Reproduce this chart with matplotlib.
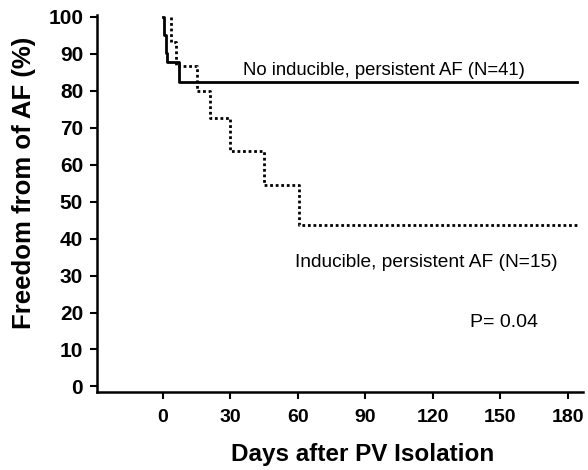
import matplotlib
matplotlib.use("Agg")
import matplotlib.pyplot as plt

plt.rcParams['font.family'] = ['Liberation Sans', 'DejaVu Sans']

# Kaplan-Meier steps (day, freedom %)
no_ind_days = [0, 0.6, 1.2, 2, 7, 184]
no_ind_pct = [100, 95.1, 90.2, 87.8, 82.4, 82.4]

ind_days = [3.4, 3.5, 6, 15, 21, 30, 45, 60.4, 184]
ind_pct = [100, 93.3, 86.7, 80.0, 72.7, 63.6, 54.5, 43.6, 43.6]

xticks = [0, 30, 60, 90, 120, 150, 180]
yticks = [0, 10, 20, 30, 40, 50, 60, 70, 80, 90, 100]

fig = plt.figure(figsize=(5.88, 4.70), dpi=100)
ax = fig.add_axes([0.165, 0.166, 0.826, 0.802])

ax.plot(no_ind_days, no_ind_pct, drawstyle='steps-post', color='black', lw=2)
ax.plot(ind_days, ind_pct, drawstyle='steps-post', color='black', lw=2,
        linestyle=(0, (1, 1)))

ax.set_xlim(-29.3, 186.7)
ax.set_ylim(-1.5, 100.5)
ax.set_xticks(xticks)
ax.set_yticks(yticks)
for s in ['top', 'right']:
    ax.spines[s].set_visible(False)
for s in ['left', 'bottom']:
    ax.spines[s].set_linewidth(1.8)
ax.tick_params(direction='out', length=5, width=1.5)
ax.tick_params(axis='x', labelsize=14, pad=7)
ax.tick_params(axis='y', labelsize=15, pad=5)
for lab in ax.get_xticklabels() + ax.get_yticklabels():
    lab.set_fontweight('bold')

ax.set_xlabel('Days after PV Isolation', fontsize=17.5, fontweight='bold')
ax.set_ylabel('Freedom from of AF (%)', fontsize=18.5, fontweight='bold')
ax.xaxis.set_label_coords(0.547, -0.135)
ax.yaxis.set_label_coords(-0.126, 0.554)

ax.text(35.5, 84.3, 'No inducible, persistent AF (N=41)', fontsize=13.3)
ax.text(58.7, 32.2, 'Inducible, persistent AF (N=15)', fontsize=13.8)
ax.text(136.4, 16, 'P= 0.04', fontsize=14)

fig.savefig('out.png', dpi=100)
